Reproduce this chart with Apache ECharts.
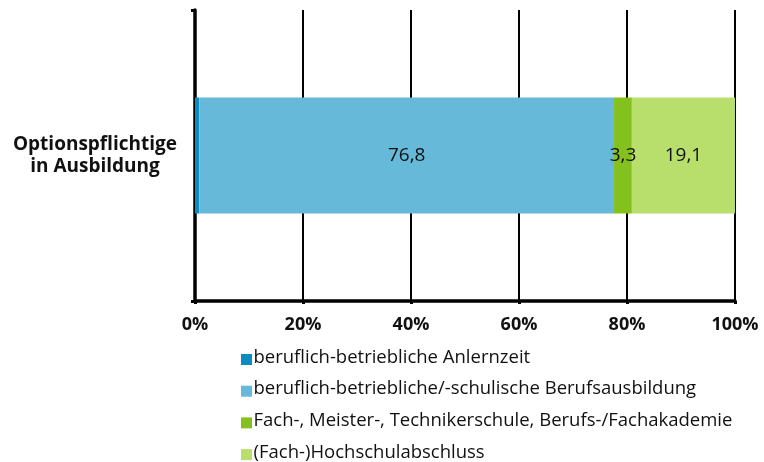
<!DOCTYPE html>
<html><head><meta charset="utf-8">
<script src="https://cdn.jsdelivr.net/npm/echarts@6/dist/echarts.min.js"></script>
<style>html,body{margin:0;padding:0;background:#fff}#c{width:764px;height:462px}</style>
</head><body><div id="c"></div>
<script>
var categories = ['Optionspflichtige\nin Ausbildung'];
var seriesNames = [
  'beruflich-betriebliche Anlernzeit',
  'beruflich-betriebliche/-schulische Berufsausbildung',
  'Fach-, Meister-, Technikerschule, Berufs-/Fachakademie',
  '(Fach-)Hochschulabschluss'
];
var anlernzeit = [0.8];
var berufsausbildung = [76.8];
var fachschule = [3.3];
var hochschule = [19.1];
var xTicks = [0, 20, 40, 60, 80, 100];
var colors = ['#0a8cbf', '#66b9d9', '#84c11f', '#b8de6c'];
var values = [anlernzeit, berufsausbildung, fachschule, hochschule];
var FONT = '"Open Sans", "Noto Sans", sans-serif';

var chart = echarts.init(document.getElementById('c'), null, {renderer: 'canvas'});
chart.setOption({
  animation: false,
  textStyle: {fontFamily: FONT},
  grid: {left: 195, right: 29, top: 10, bottom: 161, containLabel: false},
  legend: {
    orient: 'vertical', left: 236, top: 343, height: 120, itemWidth: 12, itemHeight: 15, itemGap: 12.7,
    icon: 'path://M0,0M0,4L11,4L11,15L0,15Z',
    textStyle: {fontFamily: FONT, fontSize: 18.5, lineHeight: 18, color: '#111', padding: [0, 0, 0, -4]},
    data: seriesNames
  },
  xAxis: {
    type: 'value', min: xTicks[0], max: xTicks[xTicks.length - 1], interval: 20,
    axisLine: {show: true, lineStyle: {color: '#000', width: 3.5}},
    axisTick: {show: true, length: 3, lineStyle: {color: '#000', width: 3}},
    splitLine: {show: true, lineStyle: {color: '#000', width: 2}},
    axisLabel: {formatter: '{value}%', fontWeight: 'bold', fontSize: 18, color: '#111', margin: 15, fontFamily: FONT}
  },
  yAxis: {
    type: 'category', data: categories,
    axisLine: {show: true, lineStyle: {color: '#000', width: 3.5}},
    axisTick: {show: true, length: 4, lineStyle: {color: '#000', width: 3}},
    axisLabel: {fontWeight: 'bold', fontSize: 19, color: '#111', align: 'center', margin: 100, lineHeight: 22, fontFamily: FONT}
  },
  series: values.map(function (v, i) {
    return {
      name: seriesNames[i], type: 'bar', stack: 'total', data: v, barWidth: 116,
      itemStyle: {color: colors[i]},
      label: {
        show: i > 0, position: 'inside', color: '#111', fontSize: 19, fontFamily: FONT,
        formatter: function (p) { return String(p.value).replace('.', ','); }
      }
    };
  })
});
</script></body></html>
